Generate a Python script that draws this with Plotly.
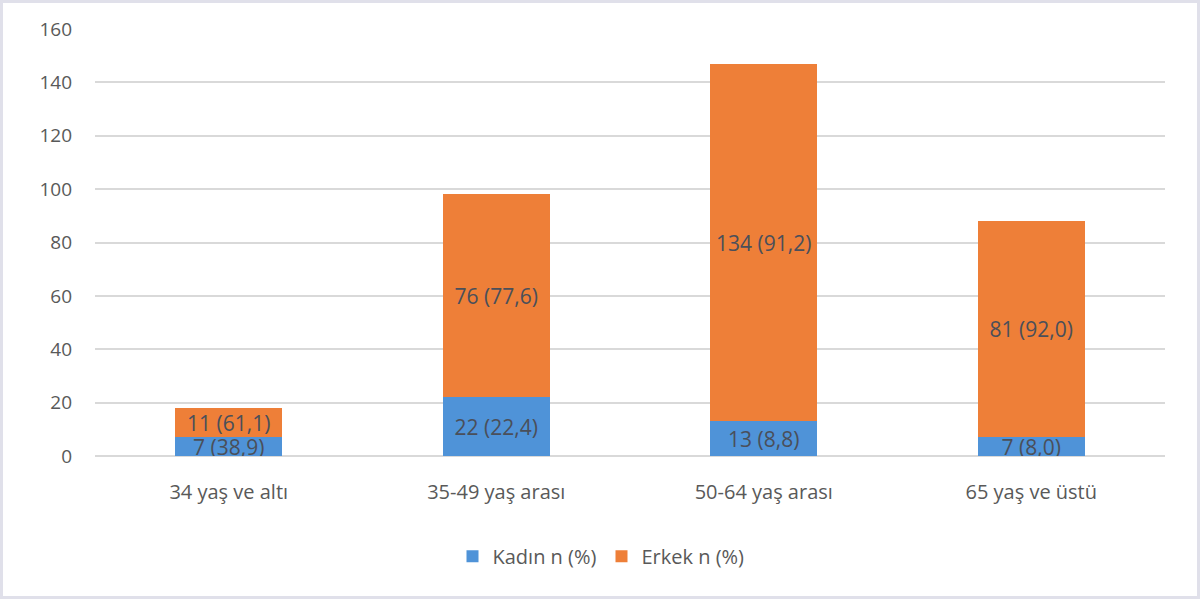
import plotly.graph_objects as go

categories = ["34 yaş ve altı", "35-49 yaş arası", "50-64 yaş arası", "65 yaş ve üstü"]
kadin_n = [7, 22, 13, 7]
kadin_pct = ["38,9", "22,4", "8,8", "8,0"]
erkek_n = [11, 76, 134, 81]
erkek_pct = ["61,1", "77,6", "91,2", "92,0"]
y_ticks = [0, 20, 40, 60, 80, 100, 120, 140, 160]

W, H = 1200, 599
ML, MR, MT, MB = 95, 35, 29, 143

FONT = "Open Sans"
TXT = "#595959"

fig = go.Figure()
fig.add_trace(go.Bar(
    x=categories, y=kadin_n, name="Kadın n (%)",
    marker=dict(color="#4F93D8", line=dict(width=0)),
    text=[f"{n} ({p})" for n, p in zip(kadin_n, kadin_pct)],
    textposition="inside", insidetextanchor="middle", constraintext="none",
    textangle=0, textfont=dict(family=FONT, size=21, color="#4A4F5A"),
))
fig.add_trace(go.Bar(
    x=categories, y=erkek_n, name="Erkek n (%)",
    marker=dict(color="#EE7F38", line=dict(width=0)),
    text=[f"{n} ({p})" for n, p in zip(erkek_n, erkek_pct)],
    textposition="inside", insidetextanchor="middle", constraintext="none",
    textangle=0, textfont=dict(family=FONT, size=21, color="#4A4F5A"),
))

pw = W - ML - MR
ph = H - MT - MB
fig.add_shape(type="rect", xref="paper", yref="paper",
              x0=-(ML - 1.5) / pw, x1=1 + (MR - 1.5) / pw,
              y0=-(MB - 1.5) / ph, y1=1 + (MT - 1.5) / ph,
              line=dict(color="#E0E0EA", width=3), layer="below")

fig.update_layout(
    width=W, height=H,
    margin=dict(l=ML, r=MR, t=MT, b=MB),
    barmode="stack", bargap=0.6,
    paper_bgcolor="white", plot_bgcolor="white",
    font=dict(family=FONT, size=20, color=TXT),
    showlegend=True,
    legend=dict(orientation="h", x=0.5 - 29 / pw, xanchor="center", y=-0.235, yanchor="middle",
                font=dict(family=FONT, size=20, color=TXT), itemwidth=30,
                traceorder="normal"),
    xaxis=dict(showgrid=False, showline=False, ticks="", ticklabelstandoff=22,
               tickfont=dict(family=FONT, size=20, color=TXT)),
    yaxis=dict(range=[0, 160], tickvals=y_ticks, showgrid=True, gridcolor="#D9D9D9",
               gridwidth=1.5, zeroline=True, zerolinecolor="#D9D9D9", zerolinewidth=1.5,
               showline=False, ticks="", ticklabelstandoff=22,
               tickfont=dict(family=FONT, size=19, color=TXT)),
)

fig.write_html("out.html", config={"displayModeBar": False},
               post_script="document.body.style.margin='0';")
